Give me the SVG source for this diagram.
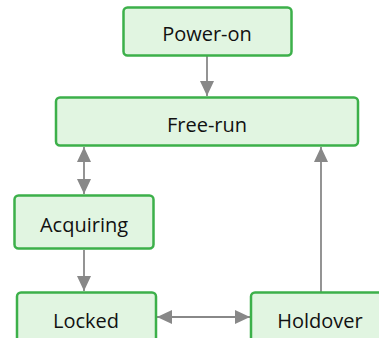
<svg xmlns="http://www.w3.org/2000/svg" width="379" height="338" viewBox="0 0 379 338">
<defs>
<style>
.box{fill:#e1f5e1;stroke:#3cb04a;stroke-width:2.5}
.lbl{font-family:"Open Sans","Noto Sans",sans-serif;font-size:20px;fill:#111;text-anchor:middle}
.c{stroke:#888;stroke-width:1.8;fill:none}
</style>
<marker id="ah" viewBox="0 0 15 14" refX="15" refY="7" markerWidth="15" markerHeight="14" markerUnits="userSpaceOnUse" orient="auto-start-reverse"><path d="M0,0 L15,7 L0,14 Z" fill="#888"/></marker>
</defs>
<rect width="379" height="338" fill="#fff"/>
<g id="connectors">
<path class="c" d="M207,56 V96" marker-end="url(#ah)"/>
<path class="c" d="M84,147 V194" marker-start="url(#ah)" marker-end="url(#ah)"/>
<path class="c" d="M84,250 V291" marker-end="url(#ah)"/>
<path class="c" d="M157,317 H250" marker-start="url(#ah)" marker-end="url(#ah)"/>
<path class="c" d="M321,292 V147" marker-end="url(#ah)"/>
</g>
<g id="power-on"><rect class="box" x="123.5" y="7.5" width="168" height="48" rx="4"/><text class="lbl" x="207" y="40.5">Power-on</text></g>
<g id="free-run"><rect class="box" x="56" y="97.5" width="302" height="48" rx="4"/><text class="lbl" x="207" y="131.5">Free-run</text></g>
<g id="acquiring"><rect class="box" x="14.5" y="195.5" width="139" height="53" rx="4"/><text class="lbl" x="84" y="231.5">Acquiring</text></g>
<g id="locked"><rect class="box" x="17" y="292.5" width="139" height="60" rx="4"/><text class="lbl" x="86" y="327.5">Locked</text></g>
<g id="holdover"><rect class="box" x="251" y="292.5" width="139" height="60" rx="4"/><text class="lbl" x="320" y="327.5">Holdover</text></g>
</svg>
